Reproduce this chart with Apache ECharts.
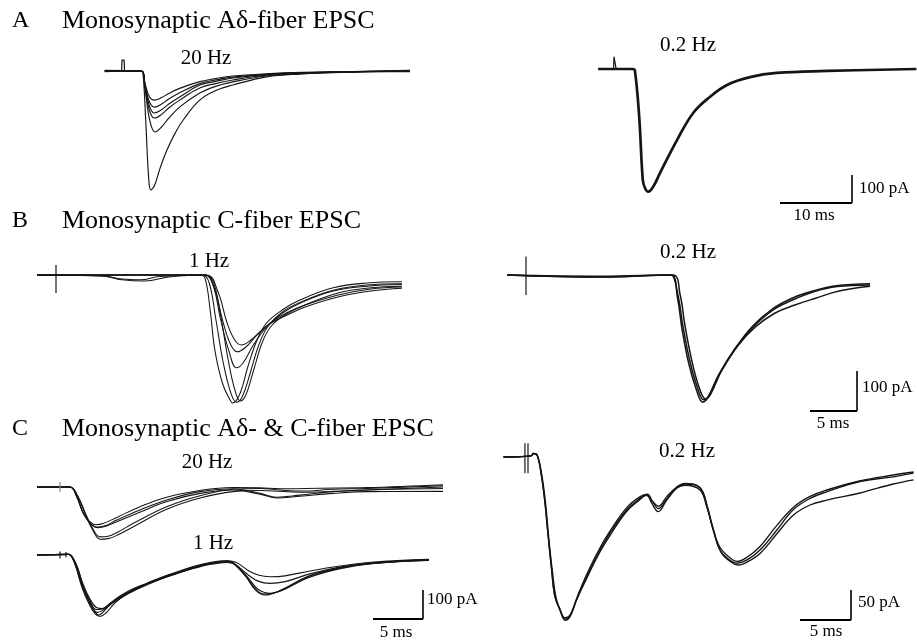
<!DOCTYPE html>
<html><head><meta charset="utf-8">
<script src="https://cdn.jsdelivr.net/npm/echarts@6/dist/echarts.min.js"></script>
<style>html,body{margin:0;padding:0;background:#fff}#c{width:917px;height:641px}</style>
</head><body><div id="c"></div>
<script>
// ---------- DATA (time in ms after stimulus, current in pA) ----------
// Panel A, 20 Hz (left)
const aL1 = [[-2.4,0],[2.6,0],[2.9,-5],[3.3,-180],[3.7,-380],[4.0,-425],[4.5,-410],[5.3,-346],[6.25,-282],[7.4,-221],[8.5,-175],[10.8,-104],[13.2,-68],[15.4,-50],[20.1,-21],[24.7,-11],[31.7,-4],[40,0]];
const aL2 = [[-2.4,0],[2.7,0],[3.2,-60],[3.8,-170],[4.6,-218],[5.5,-200],[6.5,-168],[8,-129],[10.8,-79],[13,-55],[15.4,-39],[20,-18],[25,-9],[32,-3],[40,0]];
const aL3 = [[-2.4,1],[2.7,0],[3.2,-60],[3.8,-140],[4.5,-168],[5.5,-155],[6.5,-132],[8,-104],[10.8,-61],[13,-45],[15.4,-32],[20,-15],[25,-8],[32,-3],[40,1]];
const aL4 = [[-2.4,-1],[2.7,0],[3.2,-55],[3.8,-125],[4.5,-150],[5.5,-138],[6.5,-118],[8,-93],[10.8,-50],[13,-37],[15.4,-25],[20,-13],[25,-7],[32,-3],[40,-1]];
const aL5 = [[-2.4,2],[2.7,0],[3.2,-50],[3.8,-110],[4.5,-129],[5.5,-118],[6.5,-100],[8,-78],[10.8,-45],[13,-32],[15.4,-22],[20,-12],[25,-6],[32,-2],[40,2]];
const aL6 = [[-2.4,-2],[2.7,0],[3.2,-45],[3.8,-92],[4.5,-104],[5.5,-95],[6.5,-80],[8,-62],[10.8,-38],[13,-27],[15.4,-18],[20,-10],[25,-5],[32,-2],[40,-2]];
const aLArtifact = [[-0.05,0],[0,39],[0.3,39],[0.35,0]];
// Panel A, 0.2 Hz (right)
const aR1 = [[-2.2,0],[2.6,0],[2.9,-5],[3.5,-171],[4.0,-396],[4.3,-425],[4.75,-438],[5.45,-420],[6.4,-371],[8.75,-254],[11,-157],[13.3,-100],[15.7,-57],[18.9,-29],[22.6,-14],[29.6,-7],[42,0]];
const aRArtifact = [[-0.05,0],[0,44],[0.25,44],[0.3,0]];
// Panel B, 1 Hz (left)
const bL1 = [[-2,0],[15.3,0],[15.85,-8],[16.4,-88],[16.9,-188],[17.7,-270],[18.5,-312],[18.8,-320],[19.6,-295],[20.4,-230],[21.4,-162],[22.4,-120],[24.1,-87],[26,-62],[29.5,-32],[33.1,-20],[36.8,-17]];
const bL2 = [[-2,0],[15.6,0],[16.3,-20],[17.0,-110],[17.8,-220],[18.6,-295],[19.2,-318],[19.8,-305],[20.6,-250],[21.5,-180],[22.5,-130],[24.1,-92],[26,-68],[29.5,-38],[33.1,-25],[36.8,-22]];
const bL3 = [[-2,0],[5,-2],[7,-10],[9,-12],[11,-4],[15.8,0],[16.7,-15],[17.5,-100],[18.3,-210],[19.0,-285],[19.6,-315],[20.2,-300],[21,-240],[22,-165],[23,-125],[24.5,-98],[26.5,-75],[30,-45],[33.5,-32],[36.8,-28]];
const bL4 = [[-2,0],[15.8,0],[16.7,-25],[17.5,-110],[18.4,-190],[19.2,-232],[19.9,-220],[21,-175],[22.4,-130],[24.1,-95],[26,-70],[29.5,-40],[33.1,-28],[36.8,-24]];
const bL5 = [[-2,0],[5,-3],[7,-12],[9.5,-15],[12,-5],[15.9,0],[16.8,-30],[17.8,-120],[18.6,-175],[19.3,-192],[20.2,-180],[21.4,-150],[22.8,-120],[24.5,-95],[26.5,-75],[30,-50],[33.5,-35],[36.8,-30]];
const bL6 = [[-2,0],[16,0],[17.2,-40],[18.2,-120],[19.0,-162],[19.7,-175],[20.6,-165],[21.8,-140],[23,-118],[24.6,-100],[26.5,-80],[30,-55],[33.5,-40],[36.8,-33]];
const bLArtifact = [[0,25],[0,-45]];
// Panel B, 0.2 Hz (right)
const bR1 = [[-2,0],[8,-5],[15.3,0],[15.5,0],[16.2,-54],[16.7,-129],[17.4,-212],[18.2,-279],[18.9,-312],[19.4,-304],[20.6,-245],[22.4,-179],[24.2,-129],[26.3,-87],[28.4,-62],[30.6,-42],[33.1,-29],[36.6,-25]];
const bR2 = [[-2,0],[8,-5],[15.6,0],[16.4,-50],[16.9,-125],[17.6,-210],[18.4,-280],[19.1,-310],[19.6,-300],[20.8,-240],[22.6,-175],[24.4,-130],[26.5,-95],[28.6,-75],[30.8,-58],[33.3,-40],[36.6,-28]];
const bR3 = [[-2,0],[8,-3],[15.4,0],[16.1,-55],[16.6,-135],[17.3,-220],[18.1,-285],[18.8,-318],[19.3,-308],[20.5,-250],[22.3,-182],[24.1,-128],[26.2,-85],[28.3,-58],[30.5,-40],[33,-27],[36.6,-22]];
const bRArtifact = [[0,46],[0,-50]];
// Panel C, 20 Hz (left, upper)
const c20a = [[-2.3,0],[1.0,0],[1.67,-33],[2.33,-91],[3.0,-120],[3.6,-130],[4.3,-126],[5.67,-105],[8.0,-68],[10.67,-35],[14.0,-12],[17.3,-2],[20,-3],[22,-6],[26,-4],[30.7,-2],[38.3,8]];
const c20b = [[-2.3,0],[1.0,0],[1.67,-33],[2.33,-91],[3.0,-125],[3.67,-139],[4.5,-134],[5.67,-114],[8.0,-79],[10.67,-45],[14.0,-16],[17.3,-6],[20,-22],[21.7,-35],[24,-28],[27.3,-16],[30.7,-10],[38.3,0]];
const c20c = [[-2.3,0],[1.0,0],[1.7,-35],[2.4,-95],[3.1,-128],[3.8,-140],[4.6,-135],[5.8,-118],[8.1,-85],[10.7,-50],[14,-22],[17.3,-10],[20,-25],[21.7,-38],[24,-32],[27.3,-22],[30.7,-16],[38.3,-15]];
const c20d = [[-2.3,0],[1.0,0],[1.8,-35],[2.6,-100],[3.3,-150],[4.0,-180],[4.8,-178],[5.8,-165],[7.33,-137],[10.67,-77],[14.0,-38],[17.3,-16],[20,-12],[22,-15],[24,-18],[27.3,-15],[30.7,-10],[38.3,-5]];
const c20e = [[-2.3,0],[1.0,0],[1.8,-33],[2.6,-95],[3.3,-145],[4.0,-172],[4.8,-170],[5.8,-155],[7.33,-125],[10.67,-68],[14.0,-30],[17.3,-8],[20,-5],[22,-10],[24,-14],[27.3,-8],[30.7,-5],[38.3,4]];
const c20Artifact = [[0,17],[0,-17]];
// Panel C, 1 Hz (left, lower)
const c1a = [[-2.3,0],[0.9,2],[1.2,-8],[1.6,-40],[2.24,-109],[2.9,-161],[3.5,-196],[3.85,-207],[4.5,-190],[5.45,-155],[7.05,-121],[8.65,-98],[10.3,-75],[11.9,-58],[13.5,-40],[15.1,-27],[16.7,-23],[17.3,-29],[18.6,-75],[19.55,-121],[20.5,-138],[22.1,-121],[24.7,-75],[27.9,-44],[31.1,-28],[36.9,-17]];
const c1b = [[-2.3,0],[0.9,2],[1.2,-6],[1.7,-42],[2.3,-110],[3.0,-165],[3.7,-198],[4.3,-190],[5.3,-160],[7.0,-125],[8.6,-100],[10.3,-78],[11.9,-60],[13.5,-44],[15.1,-30],[16.7,-25],[17.5,-32],[18.8,-78],[19.8,-118],[21.0,-132],[22.5,-116],[25,-72],[28,-45],[31.1,-30],[36.9,-18]];
const c1c = [[-2.3,0],[0.9,2],[1.2,-6],[1.7,-40],[2.3,-105],[3.0,-158],[3.6,-188],[4.2,-186],[5.2,-162],[7.0,-128],[8.6,-102],[10.3,-80],[11.9,-62],[13.5,-45],[15.1,-32],[16.7,-26],[17.5,-32],[18.8,-68],[19.8,-90],[21.0,-98],[22.5,-92],[25,-65],[28,-42],[31.1,-28],[36.9,-16]];
const c1d = [[-2.3,0],[0.9,2],[1.2,-5],[1.7,-38],[2.3,-100],[3.0,-152],[3.7,-182],[4.3,-185],[5.3,-165],[7.0,-130],[8.6,-104],[10.3,-80],[11.9,-60],[13.5,-42],[15.1,-28],[16.7,-20],[17.6,-25],[18.9,-55],[19.9,-70],[21.0,-75],[22.5,-72],[25,-55],[28,-38],[31.1,-25],[36.9,-15]];
const c1e = [[-2.3,0],[0.9,2],[1.2,-8],[1.6,-42],[2.2,-112],[2.9,-168],[3.5,-202],[4.0,-212],[4.6,-200],[5.5,-165],[7.05,-125],[8.65,-100],[10.3,-76],[11.9,-56],[13.5,-38],[15.1,-25],[16.7,-20],[17.3,-26],[18.5,-70],[19.5,-115],[20.4,-135],[22,-125],[24.7,-80],[27.9,-48],[31.1,-30],[36.9,-19]];
const c1Artifact = [[0,12],[0,-12]];
const c1Artifact2 = [[0.6,10],[0.6,-8]];
// Panel C, 0.2 Hz (right)
const cR1 = [[-2.4,0],[0.3,2],[0.52,6],[0.91,3],[1.34,-33],[1.67,-77],[1.99,-133],[2.32,-188],[2.65,-233],[3.14,-255],[3.63,-272],[4.12,-266],[4.77,-238],[5.75,-200],[7.06,-155],[8.04,-127],[9.68,-88],[10.98,-69],[11.64,-63],[12.13,-77],[12.77,-91],[13.6,-72],[14.58,-52],[15.39,-47],[16.86,-55],[17.52,-83],[18.17,-122],[18.82,-155],[19.8,-172],[20.46,-177],[21.44,-172],[22.75,-155],[24.38,-122],[26.0,-88],[27.65,-69],[29.28,-58],[32.55,-41],[35.8,-33],[37.8,-27]];
const cR2 = [[-2.4,0],[0.3,2],[0.52,6],[0.91,3],[1.4,-35],[1.75,-82],[2.05,-138],[2.4,-192],[2.75,-235],[3.2,-258],[3.7,-270],[4.2,-262],[4.85,-232],[5.85,-192],[7.1,-150],[8.1,-122],[9.7,-84],[11.0,-66],[11.7,-62],[12.2,-74],[12.8,-86],[13.6,-70],[14.6,-50],[15.4,-45],[16.9,-52],[17.6,-85],[18.25,-125],[18.9,-158],[19.9,-175],[20.6,-180],[21.5,-175],[22.8,-160],[24.4,-128],[26.0,-97],[27.65,-80],[29.3,-72],[32.55,-60],[35.8,-45],[37.8,-38]];
const cR3 = [[-2.4,0],[0.3,2],[0.52,5],[0.91,2],[1.3,-30],[1.65,-74],[1.95,-128],[2.3,-185],[2.6,-230],[3.1,-252],[3.6,-268],[4.1,-264],[4.7,-240],[5.7,-204],[7.0,-160],[8.0,-132],[9.6,-92],[10.9,-72],[11.6,-64],[12.1,-72],[12.8,-82],[13.6,-66],[14.6,-50],[15.4,-44],[16.8,-50],[17.5,-78],[18.1,-118],[18.8,-150],[19.8,-168],[20.5,-174],[21.4,-168],[22.7,-150],[24.3,-116],[26.0,-84],[27.6,-66],[29.3,-55],[32.5,-40],[35.8,-30],[37.8,-25]];
const cRArtifact1 = [[-0.3,23],[-0.3,-27]];
const cRArtifact2 = [[0,23],[0,-27]];

// Scale bars [ms, pA] and texts
const scaleA = [10, 100];
const scaleB = [5, 100];
const scaleCL = [5, 100];
const scaleCR = [5, 50];
const panelTitles = ['Monosynaptic A\u03b4-fiber EPSC', 'Monosynaptic C-fiber EPSC', 'Monosynaptic A\u03b4- & C-fiber EPSC'];
const panelLetters = ['A', 'B', 'C'];
const freqLabels = ['20 Hz', '0.2 Hz', '1 Hz', '0.2 Hz', '20 Hz', '1 Hz', '0.2 Hz'];

// ---------- LAYOUT ----------
const W = 917, H = 641;
const FONT = '"Liberation Serif","Times New Roman",serif';
const INK = '#151515';
// pixel origin of (0 ms, 0 pA) and pixel scale for every panel
const panels = [
  {x0:122, y0:71,  pxMs:7.2,  pxPA:0.28, traces:[aL1,aL2,aL3,aL4,aL5,aL6], w:1.15, arts:[aLArtifact]},
  {x0:614, y0:69,  pxMs:7.2,  pxPA:0.28, traces:[aR1], w:2.7, arts:[aRArtifact], bar:scaleA, corner:[852,203], lab:['100 pA',859,190,'10 ms',814,216]},
  {x0:56,  y0:275, pxMs:9.4,  pxPA:0.40, traces:[bL1,bL2,bL3,bL4,bL5,bL6], w:1.05, arts:[bLArtifact]},
  {x0:526, y0:275, pxMs:9.4,  pxPA:0.40, traces:[bR1,bR2,bR3], w:1.5, arts:[bRArtifact], bar:scaleB, corner:[857,411], lab:['100 pA',862,389,'5 ms',833,424]},
  {x0:60,  y0:487, pxMs:10,   pxPA:0.29, traces:[c20a,c20b,c20c,c20d,c20e], w:1.05, arts:[c20Artifact], artColor:'#888'},
  {x0:60,  y0:555, pxMs:10,   pxPA:0.29, traces:[c1a,c1b,c1c,c1d,c1e], w:1.15, arts:[c1Artifact,c1Artifact2], bar:scaleCL, corner:[423,619], lab:['100 pA',427,601,'5 ms',396,633]},
  {x0:528, y0:457, pxMs:10.2, pxPA:0.6,  traces:[cR1,cR2,cR3], w:1.35, arts:[cRArtifact1,cRArtifact2], bar:scaleCR, corner:[851,620], lab:['50 pA',858,604,'5 ms',826,632]}
];

const grid = [], xAxis = [], yAxis = [], series = [], graphic = [];
panels.forEach((p, i) => {
  grid.push({left:0, top:0, width:W, height:H, containLabel:false});
  xAxis.push({type:'value', gridIndex:i, show:false, min:(0 - p.x0)/p.pxMs, max:(W - p.x0)/p.pxMs, splitLine:{show:false}});
  yAxis.push({type:'value', gridIndex:i, show:false, min:-(H - p.y0)/p.pxPA, max:p.y0/p.pxPA, splitLine:{show:false}});
  p.traces.forEach(tr => series.push({
    type:'line', xAxisIndex:i, yAxisIndex:i, data:tr, showSymbol:false, smooth:0.4,
    lineStyle:{color:INK, width:p.w}, silent:true, animation:false, z:2
  }));
  p.arts.forEach(a => series.push({
    type:'line', xAxisIndex:i, yAxisIndex:i, data:a, showSymbol:false, smooth:false,
    lineStyle:{color:p.artColor || INK, width:1.2}, silent:true, animation:false, z:3
  }));
  if (p.bar) {
    const tc = (p.corner[0] - p.x0)/p.pxMs, ic = -(p.corner[1] - p.y0)/p.pxPA;
    series.push({type:'line', xAxisIndex:i, yAxisIndex:i, showSymbol:false, silent:true, animation:false,
      data:[[tc - p.bar[0], ic],[tc, ic]], lineStyle:{color:'#000', width:2.2}, z:4});
    series.push({type:'line', xAxisIndex:i, yAxisIndex:i, showSymbol:false, silent:true, animation:false,
      data:[[tc, ic],[tc, ic + p.bar[1]]], lineStyle:{color:'#000', width:1.6}, z:4});
    graphic.push({type:'text', left:p.lab[1], top:p.lab[2]-10, style:{text:p.lab[0], font:'17px ' + FONT, fill:'#000'}});
    graphic.push({type:'text', x:p.lab[4], y:p.lab[5], style:{text:p.lab[3], font:'17px ' + FONT, fill:'#000', align:'center', verticalAlign:'middle'}});
  }
});

// panel letters and titles
[21, 221, 429].forEach((y, k) => {
  graphic.push({type:'text', x:12, y:y, style:{text:panelLetters[k], font:'24px ' + FONT, fill:'#000', verticalAlign:'middle'}});
  graphic.push({type:'text', x:62, y:y, style:{text:panelTitles[k], font:'26px ' + FONT, fill:'#000', verticalAlign:'middle'}});
});
// frequency labels
const freqPos = [[206,58],[688,45],[209,261],[688,252],[207,462],[213,543],[687,451]];
freqLabels.forEach((t, k) => graphic.push({type:'text', x:freqPos[k][0], y:freqPos[k][1],
  style:{text:t, font:'21px ' + FONT, fill:'#000', align:'center', verticalAlign:'middle'}}));

const chart = echarts.init(document.getElementById('c'), null, {renderer:'canvas'});
chart.setOption({backgroundColor:'#fff', animation:false, grid, xAxis, yAxis, series, graphic});
</script></body></html>
